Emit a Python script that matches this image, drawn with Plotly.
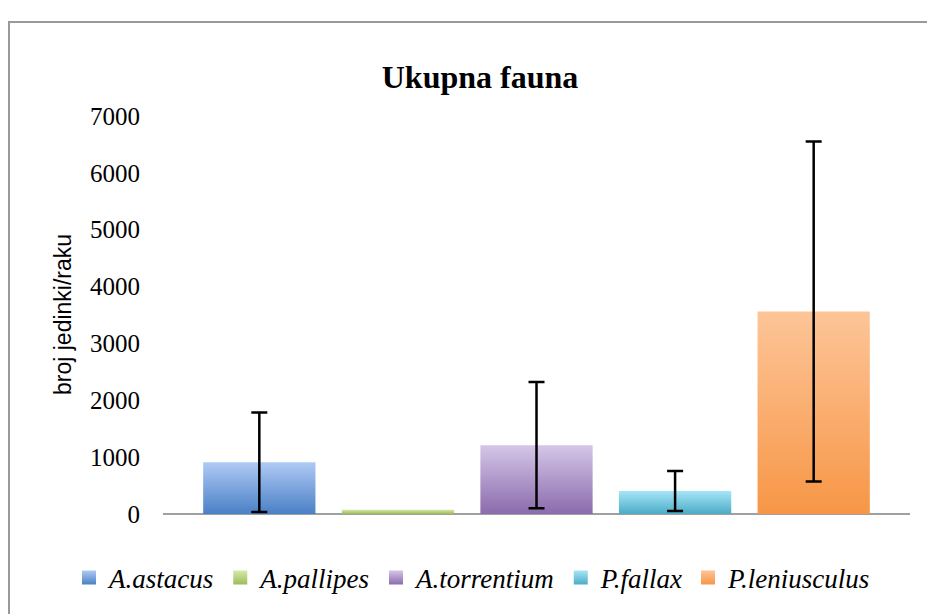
'''
    Bar chart "Ukupna fauna": mean number of fauna individuals per crayfish,
    with error bars, one bar per crayfish species.
'''
import plotly.graph_objects as go

species = ['A.astacus', 'A.pallipes', 'A.torrentium', 'P.fallax', 'P.leniusculus']
means = [910, 75, 1210, 405, 3560]
errors = [875, None, 1110, 352, 2990]

# (dark bottom, light top) for the gradient of each bar
dark_colors = ['#4a80c6', '#9bbb59', '#8a6bac', '#4bacc6', '#f79646']
light_colors = ['#b0caf5', '#d7e9ab', '#d5c6e8', '#a6e5f8', '#fdc598']

BAR_WIDTH = 0.81
SERIF = 'Liberation Serif'
SANS = 'Liberation Sans'

# the page body adds an 8px margin, so the figure is 8px smaller
W, H = 927, 606
L, R, T, B = 155, 25, 108, 100
PW, PH = W - L - R, H - T - B


def px_x(x):
    # figure pixel -> paper x
    return (x - L) / PW


def px_y(y):
    # figure pixel -> paper y
    return (H - B - y) / PH


fig = go.Figure()

# bars, drawn as filled rectangles so they can carry a vertical gradient
for i, (name, val) in enumerate(zip(species, means)):
    half = BAR_WIDTH / 2
    fig.add_trace(go.Scatter(
        x=[i - half, i + half, i + half, i - half, i - half],
        y=[0, 0, val, val, 0],
        fill='toself',
        mode='none',
        fillgradient=dict(
            type='vertical',
            colorscale=[[0, dark_colors[i]], [1, light_colors[i]]]
        ),
        showlegend=False,
        hoverinfo='skip'
    ))

# error bars (only where there is one)
err_idx = [i for i, e in enumerate(errors) if e is not None]
fig.add_trace(go.Scatter(
    x=err_idx,
    y=[means[i] for i in err_idx],
    mode='markers',
    marker=dict(size=1, opacity=0),
    error_y=dict(
        type='data',
        array=[errors[i] for i in err_idx],
        color='black',
        thickness=2.5,
        width=8
    ),
    showlegend=False
))

# legend entries
for i, name in enumerate(species):
    fig.add_trace(go.Scatter(
        x=[None], y=[None],
        mode='markers',
        name=name,
        marker=dict(
            symbol='square',
            size=14,
            color=light_colors[i],
            gradient=dict(type='vertical', color=dark_colors[i])
        )
    ))

fig.update_layout(
    width=W,
    height=H,
    paper_bgcolor='white',
    plot_bgcolor='white',
    margin=dict(l=L, r=R, t=T, b=B, autoexpand=False),
    title=dict(
        text='<b>Ukupna fauna</b>',
        x=472 / W,
        xanchor='center',
        xref='container',
        y=1 - 69 / H,
        yanchor='middle',
        font=dict(family=SERIF, size=32, color='black')
    ),
    xaxis=dict(
        range=[-0.695, 4.695],
        showticklabels=False,
        ticks='',
        showgrid=False,
        zeroline=False,
        showline=False,
        fixedrange=True
    ),
    yaxis=dict(
        range=[0, 7000],
        tickvals=[0, 1000, 2000, 3000, 4000, 5000, 6000, 7000],
        ticks='',
        ticklabelstandoff=22,
        showgrid=False,
        zeroline=True,
        zerolinecolor='#a0a0a0',
        zerolinewidth=2,
        showline=False,
        automargin=False,
        tickfont=dict(family=SERIF, size=25, color='black'),
        fixedrange=True
    ),
    legend=dict(
        orientation='h',
        x=px_x(61),
        xanchor='left',
        y=px_y(570),
        yanchor='middle',
        font=dict(family=SERIF, size=27, color='black', style='italic'),
        bgcolor='rgba(0,0,0,0)'
    ),
    annotations=[dict(
        text='broj jedinki/raku',
        textangle=-90,
        xref='paper', yref='paper',
        x=px_x(55), y=0.5,
        xanchor='center', yanchor='middle',
        showarrow=False,
        font=dict(family=SANS, size=23, color='black')
    )],
    shapes=[dict(
        type='rect',
        xref='paper', yref='paper',
        x0=px_x(1), x1=px_x(945),
        y0=px_y(625), y1=px_y(14),
        line=dict(color='#999999', width=2),
        fillcolor='rgba(0,0,0,0)',
        layer='below'
    )]
)

fig.write_html('out.html')
